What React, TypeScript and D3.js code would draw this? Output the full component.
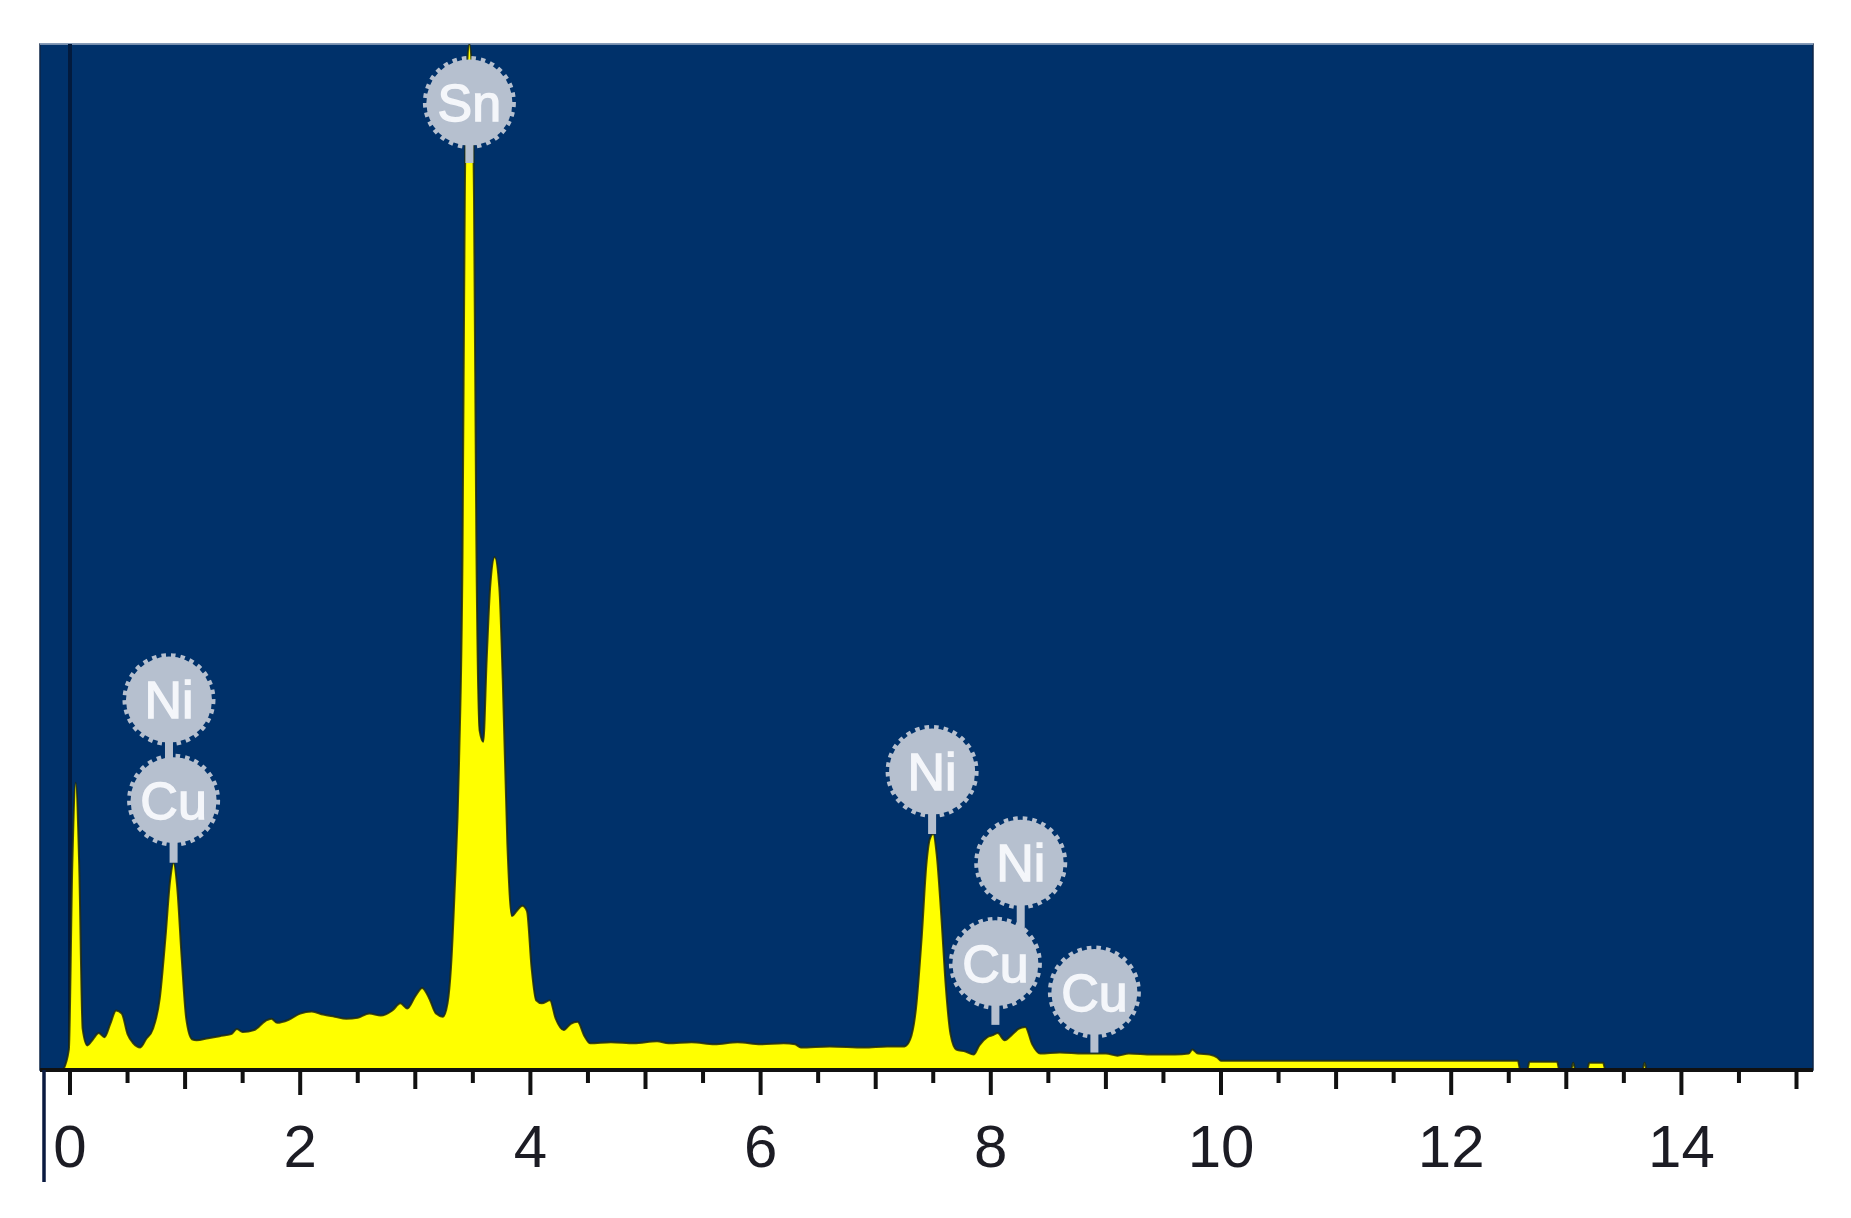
import * as d3 from 'd3';
import React from 'react';

// EDS spectrum (keV, % of full scale)
const energies = [
  -0.06, -0.01, 0.02, 0.05, 0.08, 0.11, 0.15, 0.2, 0.25, 0.3, 0.35, 0.4, 0.45, 0.5, 0.55, 0.61,
  0.66, 0.72, 0.78, 0.83, 0.87, 0.9, 0.93, 0.97, 1.01, 1.06, 1.1, 1.2, 1.3, 1.4, 1.45, 1.5,
  1.6, 1.7, 1.75, 1.8, 1.9, 2.0, 2.1, 2.2, 2.3, 2.4, 2.5, 2.6, 2.7, 2.8, 2.87, 2.93,
  3.0, 3.06, 3.12, 3.18, 3.24, 3.28, 3.31, 3.34, 3.38, 3.41, 3.43, 3.45, 3.47, 3.49, 3.51, 3.53,
  3.56, 3.59, 3.62, 3.65, 3.69, 3.73, 3.76, 3.8, 3.84, 3.88, 3.93, 3.97, 4.01, 4.05, 4.1, 4.17,
  4.22, 4.29, 4.35, 4.41, 4.47, 4.52, 4.7, 4.9, 5.1, 5.2, 5.4, 5.6, 5.8, 6.0, 6.2, 6.3, 6.35,
  6.6, 6.9, 7.1, 7.25, 7.3, 7.35, 7.4, 7.44, 7.47, 7.5, 7.53, 7.57, 7.61, 7.65, 7.7, 7.78,
  7.85, 7.9, 7.97, 8.02, 8.06, 8.12, 8.18, 8.24, 8.3, 8.36, 8.43, 8.6, 8.8, 9.0, 9.1, 9.2,
  9.4, 9.6, 9.72, 9.75, 9.8, 9.9, 9.97, 10.0, 10.5, 11.0, 11.5, 12.0, 12.5, 12.58, 12.6, 12.66,
  12.68, 12.92, 12.94, 13.04, 13.06, 13.08, 13.18, 13.2, 13.32, 13.34, 13.66, 13.68, 13.7, 13.8
];
const counts = [
  0, 2, 20, 28, 20, 4, 2.4, 3.0, 3.6, 3.2, 4.5, 5.8, 5.5, 3.5, 2.6, 2.2,
  3.0, 4.0, 7.0, 13, 18.5, 20.2, 18, 11, 5, 3.0, 2.9, 3.1, 3.3, 3.5, 4.0, 3.7,
  3.9, 4.8, 5.0, 4.6, 4.9, 5.5, 5.7, 5.4, 5.2, 5.0, 5.1, 5.5, 5.3, 5.8, 6.5, 6.0,
  7.2, 8.0, 7.0, 5.5, 5.2, 6.5, 10, 17, 30, 50, 85, 98, 100, 98, 85, 52,
  33, 32, 40, 47, 50, 47, 38, 22, 15, 15.5, 16, 15.5, 10, 6.8, 6.5, 6.8,
  5.0, 3.9, 4.5, 4.7, 3.3, 2.6, 2.7, 2.6, 2.8, 2.6, 2.7, 2.5, 2.7, 2.5, 2.6, 2.5, 2.2,
  2.3, 2.2, 2.3, 2.3, 3.0, 6, 13, 20, 22.5, 23, 21, 15, 8, 3.5, 2.0, 1.8,
  1.5, 2.4, 3.2, 3.4, 3.6, 2.9, 3.4, 4.0, 4.2, 2.5, 1.6, 1.7, 1.6, 1.6, 1.4, 1.6,
  1.5, 1.5, 1.6, 2.0, 1.6, 1.5, 1.2, 0.9, 0.9, 0.9, 0.9, 0.9, 0.9, 0.9, 0, 0,
  0.8, 0.8, 0, 0, 0.7, 0, 0, 0.7, 0.7, 0, 0, 0.7, 0, 0
];

// element markers
const markNames = ['Sn', 'Ni', 'Cu', 'Ni', 'Ni', 'Cu', 'Cu'];
const markEnergies = [3.47, 0.86, 0.9, 7.49, 8.26, 8.04, 8.9];
const markLevels = [94.3, 36.1, 26.3, 29.1, 20.2, 10.4, 7.6];
const markStemEnds = [88.4, 26.3, 20.2, 23, 10.4, 4.4, 1.7];

const tickValues = d3.range(0, 15.01, 0.5);
const tickLabels = [0, 2, 4, 6, 8, 10, 12, 14];

const W = 1851;
const H = 1218;
const plot = { left: 40, right: 1813, top: 44, bottom: 1070 };

const NAVY = '#00316a';
const BADGE = '#b6c0cf';

const App = () => {
  const x = d3.scaleLinear().domain([0, 15]).range([70, 1796.5]);
  const y = d3.scaleLinear().domain([0, 100]).range([plot.bottom, plot.top]);

  const pts = energies.map((e, i) => [e, counts[i]]);
  const area = d3.area()
    .x(d => x(d[0]))
    .y0(y(0))
    .y1(d => y(d[1]))
    .curve(d3.curveMonotoneX);
  const line = d3.line()
    .x(d => x(d[0]))
    .y(d => y(d[1]))
    .curve(d3.curveMonotoneX);

  const r = 43;

  return (
    <svg width={W} height={H} style={{ position: 'absolute', left: 0, top: 0, background: '#fff' }}>
      <defs>
        <clipPath id="plotclip">
          <rect x={plot.left} y={plot.top} width={plot.right - plot.left} height={plot.bottom - plot.top} />
        </clipPath>
      </defs>

      <rect x={plot.left} y={plot.top} width={plot.right - plot.left} height={plot.bottom - plot.top}
        fill={NAVY} stroke="#0d2447" strokeWidth={1.5} />
      <line x1={plot.left} x2={plot.right} y1={plot.top} y2={plot.top} stroke="#9db3cf" strokeWidth={1.5} />
      <line x1={x(0)} x2={x(0)} y1={plot.top} y2={plot.bottom} stroke="#021a3d" strokeWidth={4} />

      <g clipPath="url(#plotclip)">
        <path d={area(pts)} fill="#ffff00" />
        <path d={line(pts)} fill="none" stroke="#1e2a14" strokeWidth={2} strokeOpacity={0.85} />
      </g>

      {/* element badges */}
      <g>
        {markNames.map((n, i) => (
          <line key={'s' + i}
            x1={x(markEnergies[i])} x2={x(markEnergies[i])}
            y1={y(markLevels[i])} y2={y(markStemEnds[i])}
            stroke={BADGE} strokeWidth={8} />
        ))}
        {markNames.map((n, i) => (
          <g key={'b' + i} transform={`translate(${x(markEnergies[i])},${y(markLevels[i])})`}>
            <circle r={r} fill={BADGE} />
            <circle r={r + 1} fill="none" stroke={BADGE} strokeWidth={5} strokeDasharray="4.5 5" />
            <text textAnchor="middle" dy="0.36em" fontFamily="'Liberation Sans', Arial, sans-serif"
              fontSize={52} fill="#f4f6fa" stroke="#f4f6fa" strokeWidth={1.4}>{n}</text>
          </g>
        ))}
      </g>

      {/* x axis */}
      <line x1={plot.left} x2={plot.right} y1={plot.bottom} y2={plot.bottom} stroke="#111" strokeWidth={4} />
      <line x1={44} x2={44} y1={plot.bottom} y2={1182} stroke="#0a1a40" strokeWidth={3.5} />
      {tickValues.map(t => {
        const len = t % 2 === 0 ? 25 : t % 1 === 0 ? 19 : 13;
        return (
          <line key={'t' + t} x1={x(t)} x2={x(t)} y1={plot.bottom} y2={plot.bottom + len}
            stroke="#111" strokeWidth={4} />
        );
      })}
      {tickLabels.map(t => (
        <text key={'l' + t} x={x(t)} y={1167} textAnchor="middle"
          fontFamily="'Liberation Sans', Arial, sans-serif" fontSize={60} fill="#1c1c24">{t}</text>
      ))}
    </svg>
  );
};

export default App;
